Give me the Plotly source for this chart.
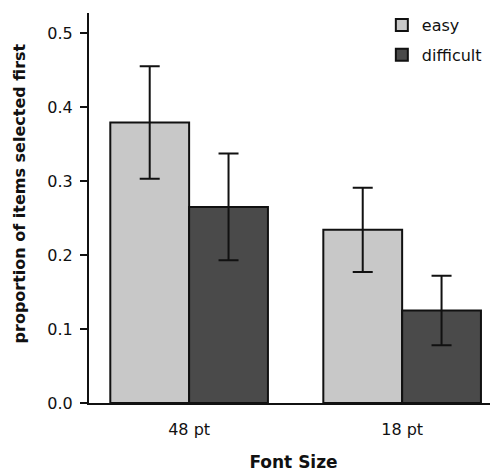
import plotly.graph_objects as go

categories = ["48 pt", "18 pt"]
easy = [0.379, 0.234]
easy_err = [0.076, 0.057]
difficult = [0.265, 0.125]
difficult_err = [0.072, 0.047]
y_ticks = [0.0, 0.1, 0.2, 0.3, 0.4, 0.5]

fig = go.Figure()
fig.add_trace(go.Bar(
    name="easy", x=categories, y=easy, legendgroup="a",
    marker=dict(color="#c8c8c8", line=dict(color="#111111", width=2)),
    error_y=dict(type="data", array=easy_err, color="#111111", thickness=2, width=10),
))
fig.add_trace(go.Bar(
    name="difficult", x=categories, y=difficult, legendgroup="b",
    marker=dict(color="#4a4a4a", line=dict(color="#111111", width=2)),
    error_y=dict(type="data", array=difficult_err, color="#111111", thickness=2, width=10),
))

fig.update_layout(
    width=498, height=471,
    margin=dict(l=81, r=8, t=5, b=76, autoexpand=False),
    paper_bgcolor="white", plot_bgcolor="white",
    font=dict(family="DejaVu Sans, sans-serif", size=16, color="#111111"),
    barmode="group", bargap=0.26, bargroupgap=0,
    showlegend=True,
    legend=dict(x=0.716, y=1.0, xanchor="left", yanchor="top",
                xref="paper", yref="container",
                bgcolor="rgba(0,0,0,0)", tracegroupgap=6,
                font=dict(size=16)),
    xaxis=dict(range=[-0.47, 1.45], showline=True, linecolor="#111111", linewidth=2,
               ticks="", showgrid=False, zeroline=False, automargin=False,
               ticklabelstandoff=11,
               title=dict(text="<b>Font Size</b>", standoff=18, font=dict(size=17))),
    yaxis=dict(range=[0, 0.527], tickvals=y_ticks, tickformat=".1f",
               showline=True, linecolor="#111111", linewidth=2,
               ticks="outside", ticklen=7, tickwidth=2, tickcolor="#111111",
               showgrid=False, zeroline=False, automargin=False,
               ticklabelstandoff=4),
    annotations=[dict(text="<b>proportion of items selected first</b>",
                      xref="paper", yref="paper", x=-0.169, y=0.537,
                      xanchor="center", yanchor="middle", textangle=-90,
                      showarrow=False, font=dict(size=16))],
)

fig.write_html("out.html")
